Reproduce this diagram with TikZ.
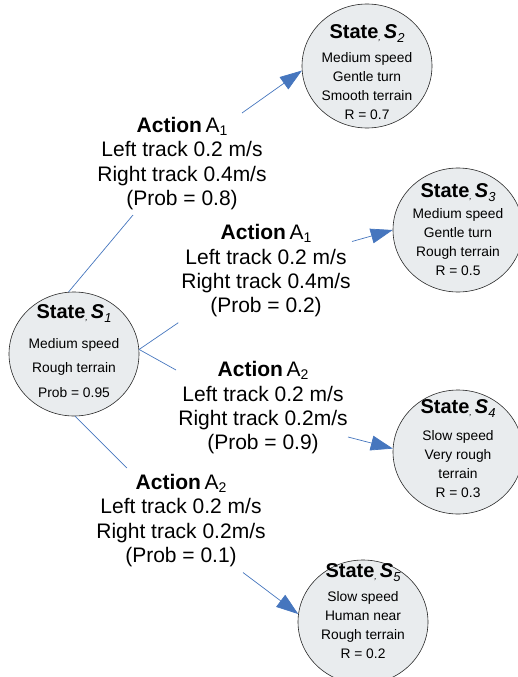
\documentclass[tikz,border=0pt]{standalone}
\usepackage{fontspec}
\setmainfont{Liberation Sans}
\usetikzlibrary{shapes.geometric,arrows.meta,calc}

\definecolor{linkblue}{RGB}{70,118,190}
\definecolor{stfill}{RGB}{233,236,238}

% "State, S_n" heading used inside every state bubble
\newcommand{\sttl}[1]{{\fontsize{20}{20}\selectfont\bfseries State\raisebox{-2pt}{\fontsize{9}{9}\selectfont\mdseries\itshape ,}\kern3pt\itshape S\raisebox{-4pt}{\fontsize{13}{13}\selectfont\mdseries #1}}}
% subscript of an action name
\newcommand{\actsub}[1]{\raisebox{-3pt}{\fontsize{14}{14}\selectfont #1}}

\begin{document}
\begin{tikzpicture}[x=1pt,y=-1pt,
  state/.style={ellipse, draw=black!85, fill=stfill, line width=0.6pt,
    minimum width=130pt, minimum height=124pt, inner sep=0pt},
  sttext/.style={align=center, inner sep=0pt},
  act/.style={align=center, inner sep=0pt, font=\fontsize{21}{24.3}\selectfont},
  link/.style={draw=linkblue, line width=0.7pt},
  arr/.style={link, -{Triangle[length=22pt,width=15pt]}}]
\useasboundingbox (0,0) rectangle (517,677);

% state bubbles
\node[state] (s1) at (74,354) {};
\node[state] (s2) at (367,66) {};
\node[state] (s3) at (458,230) {};
\node[state] (s4) at (458,452) {};
\node[state] (s5) at (363,622) {};

% texts inside the bubbles
\node[sttext, font=\fontsize{13.8}{24.5}\selectfont] (s1t) at ($(s1)+(0,-3)$)
  {\sttl{1}\\[5.5pt]Medium speed\\Rough terrain\\Prob = 0.95};
\node[sttext, font=\fontsize{13.8}{19}\selectfont] (s2t) at ($(s2)+(0,6)$)
  {\sttl{2}\\[5pt]Medium speed\\Gentle turn\\Smooth terrain\\R = 0.7};
\node[sttext, font=\fontsize{13.8}{19}\selectfont] (s3t) at ($(s3)+(0,0)$)
  {\sttl{3}\\[2pt]Medium speed\\Gentle turn\\Rough terrain\\R = 0.5};
\node[sttext, font=\fontsize{13.8}{19}\selectfont] (s4t) at ($(s4)+(0,-3)$)
  {\sttl{4}\\[8pt]Slow speed\\Very rough\\terrain\\R = 0.3};
\node[sttext, font=\fontsize{13.8}{19}\selectfont] (s5t) at ($(s5)+(0,-11)$)
  {\sttl{5}\\[5pt]Slow speed\\Human near\\Rough terrain\\R = 0.2};

% action labels
\node[act] (lab1) at (182,163.5)
  {\textbf{Action}\,A\actsub{1}\\Left track 0.2 m/s\\Right track 0.4m/s\\(Prob = 0.8)};
\node[act] (lab2) at (266,271)
  {\textbf{Action}\,A\actsub{1}\\Left track 0.2 m/s\\Right track 0.4m/s\\(Prob = 0.2)};
\node[act] (lab3) at (263,408)
  {\textbf{Action}\,A\actsub{2}\\Left track 0.2 m/s\\Right track 0.2m/s\\(Prob = 0.9)};
\node[act] (lab4) at (181,520.5)
  {\textbf{Action}\,A\actsub{2}\\Left track 0.2 m/s\\Right track 0.2m/s\\(Prob = 0.1)};

% transitions
\draw[link] (s1.95) -- ($(lab1.center)+(-49,51.5)$);
\draw[arr] ($(lab1.center)+(60,-50.5)$) -- (s2.184);
\draw[link] (s1.4) -- ($(lab2.center)+(-87.7,51.7)$);
\draw[arr] ($(lab2.center)+(86,-29.5)$) -- (s3.180);
\draw[link] (s1.4) -- ($(lab3.center)+(-87,-38)$);
\draw[arr] ($(lab3.center)+(85,29)$) -- (s4.177);
\draw[link] (s1.271) -- ($(lab4.center)+(-54,-52.5)$);
\draw[arr] ($(lab4.center)+(62,52)$) -- (s5.173);
\end{tikzpicture}
\end{document}
